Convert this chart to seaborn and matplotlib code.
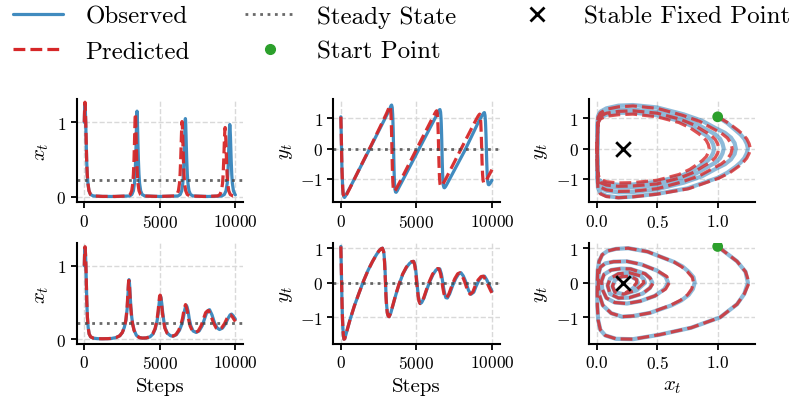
import matplotlib
matplotlib.use("Agg")
import matplotlib.pyplot as plt
import seaborn as sns
import pandas as pd
from matplotlib.lines import Line2D

# ---------------- data ----------------
# Top row: oscillating (limit-cycle-like) system
t_top_obs = [0, 10, 20, 26, 32, 39, 45, 51, 58, 64, 70, 82, 95, 125, 155, 195, 240, 310, 410, 600, 1200, 2000,
             3000, 3150, 3250, 3320, 3360, 3400, 3430, 3445, 3460, 3468, 3475, 3483, 3490, 3497, 3505, 3512, 3520, 3535,
             3550, 3580, 3620, 3660, 3730, 3830, 4000,
             5000,
             6200, 6350, 6450, 6520, 6560, 6600, 6630, 6645, 6660, 6668, 6675, 6683, 6690, 6697, 6705, 6712, 6720, 6735,
             6750, 6780, 6820, 6860, 6930, 7030, 7200,
             8200,
             9100, 9270, 9380, 9460, 9500, 9540, 9570, 9585, 9600, 9608, 9615, 9623, 9630, 9637, 9645, 9652, 9660, 9675,
             9690, 9720, 9760, 9800, 9870, 9970, 10000]
x_top_obs = [1.00, 1.08, 1.15, 1.19, 1.22, 1.24, 1.25, 1.24, 1.22, 1.19, 1.15, 1.08, 1.00, 0.75, 0.50, 0.30, 0.18, 0.08, 0.03, 0.01, 0.004, 0.003,
             0.01, 0.03, 0.08, 0.18, 0.30, 0.50, 0.72, 0.87, 0.98, 1.06, 1.11, 1.14, 1.15, 1.14, 1.11, 1.06, 0.98, 0.87,
             0.72, 0.50, 0.30, 0.18, 0.08, 0.03, 0.01,
             0.003,
             0.01, 0.03, 0.08, 0.18, 0.30, 0.50, 0.70, 0.82, 0.92, 0.98, 1.02, 1.04, 1.05, 1.04, 1.02, 0.98, 0.92, 0.82,
             0.70, 0.50, 0.30, 0.18, 0.08, 0.03, 0.01,
             0.003,
             0.01, 0.03, 0.08, 0.18, 0.30, 0.50, 0.70, 0.80, 0.87, 0.915, 0.945, 0.963, 0.97, 0.963, 0.945, 0.915, 0.87, 0.80,
             0.70, 0.50, 0.30, 0.18, 0.08, 0.03, 0.025]
y_top_obs = [1.05, 0.84, 0.60, 0.46, 0.32, 0.16, 0.00, -0.16, -0.32, -0.46, -0.60, -0.80, -0.97, -1.32, -1.50, -1.59, -1.62, -1.57, -1.47, -1.30, -0.71, 0.08,
             1.07, 1.22, 1.33, 1.42, 1.44, 1.36, 1.13, 0.92, 0.68, 0.52, 0.36, 0.18, 0.00, -0.18, -0.36, -0.52, -0.68, -0.92,
             -1.13, -1.35, -1.44, -1.45, -1.40, -1.30, -1.14,
             -0.18,
             0.97, 1.11, 1.21, 1.28, 1.29, 1.21, 1.01, 0.83, 0.60, 0.47, 0.32, 0.16, 0.00, -0.16, -0.32, -0.47, -0.60, -0.83,
             -1.01, -1.21, -1.29, -1.30, -1.26, -1.17, -1.01,
             -0.07,
             0.87, 1.03, 1.12, 1.18, 1.19, 1.10, 0.90, 0.72, 0.52, 0.41, 0.28, 0.14, 0.00, -0.14, -0.28, -0.41, -0.52, -0.72,
             -0.90, -1.10, -1.19, -1.20, -1.16, -1.08, -1.05]

t_top_pred = [0, 10, 20, 26, 32, 39, 45, 51, 58, 64, 70, 82, 95, 125, 155, 195, 240, 310, 410, 600, 1200, 2000,
              2890, 3040, 3140, 3210, 3250, 3290, 3320, 3335, 3350, 3358, 3365, 3373, 3380, 3387, 3395, 3402, 3410, 3425,
              3440, 3470, 3510, 3550, 3620, 3720, 3890,
              4900,
              5980, 6130, 6230, 6300, 6340, 6380, 6410, 6425, 6440, 6448, 6455, 6463, 6470, 6477, 6485, 6492, 6500, 6515,
              6530, 6560, 6600, 6640, 6710, 6810, 6980,
              8000,
              8830, 8980, 9080, 9150, 9190, 9230, 9260, 9275, 9290, 9298, 9305, 9313, 9320, 9327, 9335, 9342, 9350, 9365,
              9380, 9410, 9450, 9490, 9560, 9660, 9830, 10000]
x_top_pred = [1.00, 1.09, 1.17, 1.21, 1.24, 1.26, 1.27, 1.26, 1.24, 1.21, 1.17, 1.10, 1.01, 0.76, 0.50, 0.30, 0.18, 0.08, 0.03, 0.01, 0.004, 0.003,
              0.01, 0.03, 0.08, 0.18, 0.30, 0.50, 0.71, 0.85, 0.96, 1.03, 1.08, 1.11, 1.12, 1.11, 1.08, 1.03, 0.96, 0.85,
              0.71, 0.50, 0.30, 0.18, 0.08, 0.03, 0.01,
              0.003,
              0.01, 0.03, 0.08, 0.18, 0.30, 0.50, 0.69, 0.80, 0.89, 0.945, 0.98, 1.00, 1.01, 1.00, 0.98, 0.945, 0.89, 0.80,
              0.69, 0.50, 0.30, 0.18, 0.08, 0.03, 0.01,
              0.003,
              0.01, 0.03, 0.08, 0.18, 0.30, 0.50, 0.68, 0.77, 0.84, 0.875, 0.905, 0.923, 0.93, 0.923, 0.905, 0.875, 0.84, 0.77,
              0.68, 0.50, 0.30, 0.18, 0.08, 0.03, 0.01, 0.005]
y_top_pred = [1.05, 0.84, 0.60, 0.46, 0.32, 0.16, 0.00, -0.16, -0.32, -0.46, -0.60, -0.80, -0.98, -1.33, -1.51, -1.60, -1.63, -1.59, -1.50, -1.31, -0.70, 0.10,
              1.02, 1.18, 1.30, 1.38, 1.41, 1.33, 1.10, 0.90, 0.66, 0.51, 0.35, 0.17, 0.00, -0.17, -0.35, -0.51, -0.66, -0.90,
              -1.10, -1.33, -1.41, -1.42, -1.37, -1.28, -1.12,
              -0.13,
              0.93, 1.07, 1.17, 1.23, 1.25, 1.17, 0.97, 0.79, 0.57, 0.44, 0.30, 0.15, 0.00, -0.15, -0.30, -0.44, -0.57, -0.79,
              -0.97, -1.17, -1.24, -1.25, -1.21, -1.13, -0.97,
              0.03,
              0.84, 0.98, 1.07, 1.12, 1.14, 1.05, 0.86, 0.69, 0.50, 0.39, 0.27, 0.13, 0.00, -0.13, -0.27, -0.39, -0.50, -0.69,
              -0.86, -1.05, -1.13, -1.14, -1.10, -1.02, -0.86, -0.70]

# Bottom row: damped system spiralling into the fixed point
t_bot_obs = [0, 20, 35, 50, 65, 80, 105, 135, 165, 205,
             255, 320, 420, 600, 900, 1200, 1500, 1800, 2100, 2350,
             2520, 2650, 2760, 2840, 2900, 2915, 2930, 2945, 2960, 2975, 2990, 3010, 3030, 3080,
             3140, 3200, 3300, 3450, 3650, 3850, 4100, 4350, 4550, 4700,
             4820, 4900, 4960, 5000, 5040, 5080, 5130, 5190, 5260, 5350,
             5500, 5700, 5900, 6100, 6300, 6450, 6550, 6650, 6700, 6750,
             6800, 6870, 6950, 7050, 7200, 7400, 7600, 7800, 7950, 8100,
             8200, 8290, 8450, 8620, 8800, 8950, 9150, 9350, 9510, 9650,
             9750, 9880, 10000]
x_bot_obs = [1.00, 1.16, 1.23, 1.25, 1.22, 1.16, 1.02, 0.78, 0.52, 0.30,
             0.16, 0.07, 0.03, 0.012, 0.005, 0.004, 0.005, 0.008, 0.02, 0.045,
             0.09, 0.16, 0.26, 0.42, 0.64, 0.71, 0.76, 0.80, 0.81, 0.795, 0.76, 0.70, 0.62, 0.44,
             0.30, 0.21, 0.12, 0.05, 0.02, 0.013, 0.015, 0.03, 0.07, 0.14,
             0.25, 0.37, 0.50, 0.57, 0.59, 0.56, 0.48, 0.36, 0.25, 0.15,
             0.08, 0.045, 0.04, 0.06, 0.12, 0.20, 0.28, 0.40, 0.44, 0.46,
             0.44, 0.38, 0.27, 0.18, 0.11, 0.09, 0.11, 0.18, 0.27, 0.36,
             0.39, 0.40, 0.33, 0.22, 0.15, 0.13, 0.15, 0.21, 0.28, 0.33,
             0.34, 0.31, 0.27]
y_bot_obs = [1.05, 0.62, 0.32, 0.00, -0.32, -0.62, -1.00, -1.30, -1.50, -1.63,
             -1.62, -1.52, -1.36, -1.08, -0.66, -0.30, 0.05, 0.36, 0.62, 0.81,
             0.92, 0.98, 1.00, 0.90, 0.60, 0.47, 0.32, 0.16, 0.00, -0.18, -0.35, -0.51, -0.65, -0.87,
             -0.96, -0.98, -0.88, -0.65, -0.33, -0.05, 0.25, 0.45, 0.56, 0.61,
             0.62, 0.53, 0.35, 0.18, 0.00, -0.18, -0.38, -0.53, -0.60, -0.57,
             -0.44, -0.18, 0.05, 0.24, 0.37, 0.41, 0.40, 0.26, 0.14, 0.00,
             -0.15, -0.31, -0.43, -0.44, -0.32, -0.08, 0.12, 0.26, 0.29, 0.20,
             0.10, 0.00, -0.22, -0.33, -0.27, -0.10, 0.08, 0.18, 0.19, 0.09,
             0.00, -0.13, -0.24]

t_bot_pred = [0, 20, 35, 50, 65, 80, 105, 135, 165, 205,
              255, 320, 420, 600, 900, 1200, 1500, 1800, 2100, 2350,
              2520, 2650, 2750, 2830, 2890, 2905, 2920, 2935, 2950, 2965, 2980, 3000, 3020, 3070,
              3130, 3190, 3290, 3440, 3640, 3840, 4090, 4330, 4530, 4680,
              4800, 4880, 4940, 4980, 5020, 5060, 5110, 5170, 5240, 5330,
              5480, 5680, 5870, 6060, 6250, 6400, 6500, 6600, 6650, 6700,
              6750, 6820, 6900, 7000, 7150, 7350, 7540, 7730, 7880, 8030,
              8130, 8220, 8380, 8550, 8730, 8880, 9080, 9280, 9440, 9580,
              9680, 9810, 9930, 10000]
x_bot_pred = [1.00, 1.16, 1.23, 1.26, 1.22, 1.16, 1.02, 0.78, 0.52, 0.30,
              0.16, 0.07, 0.03, 0.012, 0.005, 0.004, 0.005, 0.008, 0.02, 0.045,
              0.09, 0.16, 0.26, 0.42, 0.64, 0.70, 0.75, 0.79, 0.80, 0.785, 0.75, 0.69, 0.61, 0.44,
              0.30, 0.21, 0.12, 0.05, 0.02, 0.013, 0.015, 0.03, 0.07, 0.14,
              0.25, 0.37, 0.50, 0.58, 0.60, 0.57, 0.48, 0.36, 0.25, 0.15,
              0.08, 0.045, 0.04, 0.06, 0.12, 0.20, 0.28, 0.40, 0.44, 0.47,
              0.44, 0.38, 0.27, 0.18, 0.11, 0.09, 0.11, 0.18, 0.27, 0.36,
              0.38, 0.39, 0.32, 0.22, 0.15, 0.13, 0.15, 0.21, 0.28, 0.33,
              0.33, 0.30, 0.26, 0.24]
y_bot_pred = [1.05, 0.62, 0.32, 0.00, -0.32, -0.62, -1.00, -1.30, -1.50, -1.63,
              -1.62, -1.52, -1.36, -1.08, -0.66, -0.30, 0.05, 0.36, 0.62, 0.81,
              0.92, 0.98, 1.00, 0.90, 0.60, 0.47, 0.32, 0.16, 0.00, -0.18, -0.35, -0.51, -0.65, -0.87,
              -0.96, -0.98, -0.88, -0.65, -0.33, -0.05, 0.25, 0.45, 0.56, 0.61,
              0.62, 0.53, 0.35, 0.18, 0.00, -0.18, -0.38, -0.53, -0.60, -0.57,
              -0.44, -0.18, 0.05, 0.24, 0.37, 0.41, 0.40, 0.26, 0.14, 0.00,
              -0.15, -0.31, -0.43, -0.44, -0.32, -0.08, 0.12, 0.26, 0.29, 0.20,
              0.10, 0.00, -0.22, -0.33, -0.27, -0.10, 0.08, 0.18, 0.19, 0.09,
              0.00, -0.13, -0.24, -0.29]

steady_x = 0.22
steady_y = 0.0
fixed_point = (0.22, 0.0)
start_point = (1.0, 1.05)

legend_labels = ["Observed", "Predicted", "Steady State", "Start Point", "Stable Fixed Point"]

# ---------------- style ----------------
sns.set_theme(style="ticks")
plt.rcParams.update({
    "font.family": "serif",
    "font.serif": ["cmr10"],
    "mathtext.fontset": "cm",
    "axes.formatter.use_mathtext": True,
    "axes.edgecolor": "black",
    "axes.linewidth": 1.5,
    "xtick.color": "black",
    "ytick.color": "black",
    "xtick.major.width": 1.3,
    "ytick.major.width": 1.3,
    "xtick.major.size": 4,
    "ytick.major.size": 4,
    "xtick.labelsize": 12.5,
    "ytick.labelsize": 12.5,
    "axes.labelsize": 15,
    "text.color": "black",
    "axes.labelcolor": "black",
})

BLUE = "#1f77b4"
RED = "#d62728"
GREEN = "#2ca02c"

fig = plt.figure(figsize=(8.01, 4.06), dpi=100)
lefts = [0.0958, 0.4161, 0.7353]
w = 0.2075
rows = [(0.4993, 0.2544), (0.1502, 0.2488)]
axes = [[fig.add_axes([l, b, w, h]) for l in lefts] for (b, h) in rows]

datasets = [
    (t_top_obs, x_top_obs, y_top_obs, t_top_pred, x_top_pred, y_top_pred),
    (t_bot_obs, x_bot_obs, y_bot_obs, t_bot_pred, x_bot_pred, y_bot_pred),
]
ylims_x = [(-0.075, 1.313), (-0.068, 1.31)]
ylims_y = [(-1.78, 1.64), (-1.77, 1.15)]

for r, (to, xo, yo, tp, xp, yp) in enumerate(datasets):
    obs = pd.DataFrame({"t": to, "x": xo, "y": yo})
    pred = pd.DataFrame({"t": tp, "x": xp, "y": yp})
    ax1, ax2, ax3 = axes[r]

    # x_t time series
    sns.lineplot(data=obs, x="t", y="x", ax=ax1, color=BLUE, alpha=0.85, lw=2.3, estimator=None, sort=False)
    sns.lineplot(data=pred, x="t", y="x", ax=ax1, color=RED, alpha=0.95, lw=2.3, linestyle="--",
                 estimator=None, sort=False)
    ax1.axhline(steady_x, color="#444444", alpha=0.8, ls=":", lw=2)
    ax1.set_ylim(*ylims_x[r])
    ax1.set_yticks([0, 1])
    ax1.set_ylabel(r"$x_t$")

    # y_t time series
    sns.lineplot(data=obs, x="t", y="y", ax=ax2, color=BLUE, alpha=0.85, lw=2.3, estimator=None, sort=False)
    sns.lineplot(data=pred, x="t", y="y", ax=ax2, color=RED, alpha=0.95, lw=2.3, linestyle="--",
                 estimator=None, sort=False)
    ax2.axhline(steady_y, color="#444444", alpha=0.8, ls=":", lw=2)
    ax2.set_ylim(*ylims_y[r])
    ax2.set_yticks([-1, 0, 1])
    ax2.set_ylabel(r"$y_t$")

    for ax in (ax1, ax2):
        ax.set_xlim(-500, 10500)
        ax.set_xticks([0, 5000, 10000])
        ax.set_xlabel("Steps" if r == 1 else "")

    # phase portrait
    sns.lineplot(data=obs, x="x", y="y", ax=ax3, color=BLUE, alpha=0.5, lw=3, estimator=None, sort=False)
    sns.lineplot(data=pred, x="x", y="y", ax=ax3, color=RED, alpha=0.8, lw=2.3, linestyle="--",
                 estimator=None, sort=False)
    sns.scatterplot(x=[start_point[0]], y=[start_point[1]], ax=ax3, color=GREEN, s=60,
                    edgecolor="none", zorder=5)
    sns.scatterplot(x=[fixed_point[0]], y=[fixed_point[1]], ax=ax3, color="black", marker="x",
                    s=110, linewidth=2, zorder=6)
    ax3.set_xlim(-0.064, 1.31)
    ax3.set_ylim(*ylims_y[r])
    ax3.set_xticks([0.0, 0.5, 1.0])
    ax3.set_yticks([-1, 0, 1])
    ax3.set_ylabel(r"$y_t$")
    ax3.set_xlabel(r"$x_t$" if r == 1 else "")

    for ax in (ax1, ax2, ax3):
        ax.grid(True, ls="--", color="#d9d9d9", lw=1)
        ax.set_axisbelow(True)
        sns.despine(ax=ax)

handles = [
    Line2D([], [], color=BLUE, alpha=0.85, lw=2.3),
    Line2D([], [], color=RED, lw=2.3, ls="--"),
    Line2D([], [], color="#444444", alpha=0.8, lw=2, ls=":"),
    Line2D([], [], color=GREEN, marker="o", ls="none", markersize=7),
    Line2D([], [], color="black", marker="x", ls="none", markersize=10, mew=2),
]
fig.legend(handles, legend_labels, loc="upper left", bbox_to_anchor=(-0.012, 1.04), ncol=3,
           frameon=False, fontsize=18, handletextpad=0.9, columnspacing=2.2)

fig.savefig("out.png", dpi=100)
